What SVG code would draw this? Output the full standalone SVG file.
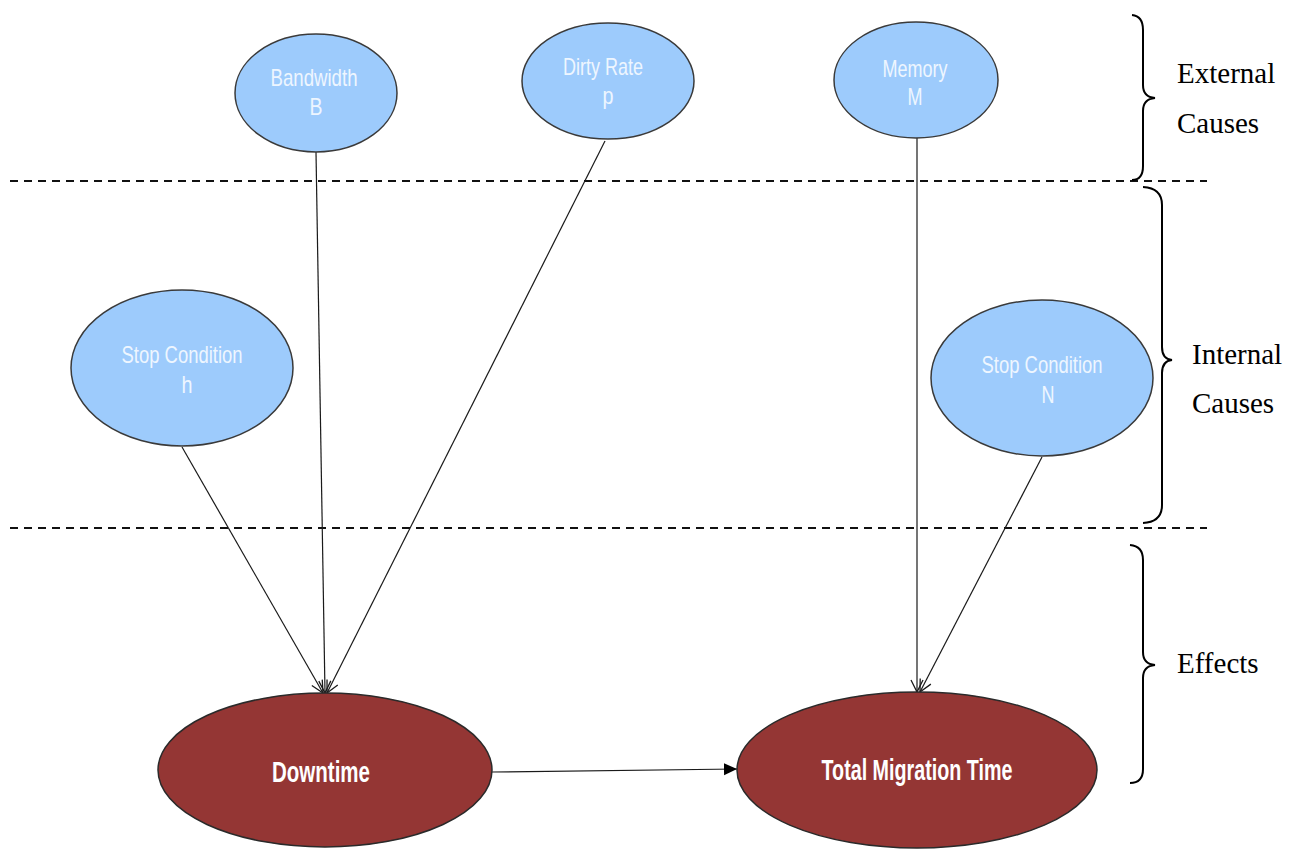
<svg xmlns="http://www.w3.org/2000/svg" width="1293" height="849" viewBox="0 0 1293 849">
  <defs>
    <marker id="open-arrow" markerWidth="14" markerHeight="14" refX="13" refY="7" orient="auto" markerUnits="userSpaceOnUse">
      <path d="M1,1 L13,7 L1,13" fill="none" stroke="#1a1a1a" stroke-width="1.3"/>
    </marker>
    <marker id="solid-arrow" markerWidth="14" markerHeight="14" refX="13" refY="7" orient="auto" markerUnits="userSpaceOnUse">
      <path d="M0,1 L13,7 L0,13 Z" fill="#000"/>
    </marker>
  </defs>
  <style>
    .cause { fill: #9dcbfc; stroke: #3a3a3a; stroke-width: 1.5; }
    .effect { fill: #943634; stroke: #2a2a2a; stroke-width: 1.5; }
    .cause-text { font-family: "Liberation Sans Narrow", "Liberation Sans", Arial, sans-serif; font-size: 24px; fill: #eef6ff; text-anchor: middle; }
    .effect-text { font-family: "Liberation Sans Narrow", "Liberation Sans", Arial, sans-serif; font-size: 29px; font-weight: bold; fill: #ffffff; text-anchor: middle; }
    .edge { fill: none; stroke: #1a1a1a; stroke-width: 1.2; }
    .divider { fill: none; stroke: #111; stroke-width: 2; stroke-dasharray: 8 6; }
    .brace { fill: none; stroke: #000; stroke-width: 2; }
    .layer-label { font-family: "Liberation Serif", "Times New Roman", serif; font-size: 29px; fill: #000; }
  </style>

  <rect width="1293" height="849" fill="#ffffff"/>

  <!-- layer dividers -->
  <g id="dividers">
    <line class="divider" x1="10" y1="181" x2="1207" y2="181"/>
    <line class="divider" x1="10" y1="528" x2="1207" y2="528"/>
  </g>

  <!-- connectors -->
  <g id="connectors">
    <line class="edge" x1="316" y1="152" x2="325" y2="693" marker-end="url(#open-arrow)"/>
    <line class="edge" x1="605" y1="141" x2="327" y2="693" marker-end="url(#open-arrow)"/>
    <line class="edge" x1="182" y1="447" x2="323" y2="693" marker-end="url(#open-arrow)"/>
    <line class="edge" x1="917" y1="138" x2="917" y2="692" marker-end="url(#open-arrow)"/>
    <line class="edge" x1="1042" y1="457" x2="920" y2="692" marker-end="url(#open-arrow)"/>
    <line class="edge" x1="492" y1="772" x2="737" y2="769" stroke-width="1.6" marker-end="url(#solid-arrow)"/>
  </g>

  <!-- external causes -->
  <g id="node-bandwidth">
    <ellipse class="cause" cx="316" cy="93" rx="81" ry="59"/>
    <text class="cause-text" x="314" y="86" textLength="87" lengthAdjust="spacingAndGlyphs">Bandwidth</text>
    <text class="cause-text" x="316" y="115" textLength="13" lengthAdjust="spacingAndGlyphs">B</text>
  </g>
  <g id="node-dirty-rate">
    <ellipse class="cause" cx="608" cy="81" rx="86" ry="58"/>
    <text class="cause-text" x="603" y="75" textLength="80" lengthAdjust="spacingAndGlyphs">Dirty Rate</text>
    <text class="cause-text" x="608" y="104" textLength="11" lengthAdjust="spacingAndGlyphs">p</text>
  </g>
  <g id="node-memory">
    <ellipse class="cause" cx="916" cy="80" rx="82" ry="58"/>
    <text class="cause-text" x="915" y="77" textLength="65" lengthAdjust="spacingAndGlyphs">Memory</text>
    <text class="cause-text" x="915" y="105" textLength="15" lengthAdjust="spacingAndGlyphs">M</text>
  </g>

  <!-- internal causes -->
  <g id="node-stop-h">
    <ellipse class="cause" cx="182" cy="368" rx="111" ry="78"/>
    <text class="cause-text" x="182" y="363" textLength="121" lengthAdjust="spacingAndGlyphs">Stop Condition</text>
    <text class="cause-text" x="187" y="393" textLength="11" lengthAdjust="spacingAndGlyphs">h</text>
  </g>
  <g id="node-stop-n">
    <ellipse class="cause" cx="1042" cy="378" rx="111" ry="78"/>
    <text class="cause-text" x="1042" y="373" textLength="121" lengthAdjust="spacingAndGlyphs">Stop Condition</text>
    <text class="cause-text" x="1048" y="403" textLength="13" lengthAdjust="spacingAndGlyphs">N</text>
  </g>

  <!-- effects -->
  <g id="node-downtime">
    <ellipse class="effect" cx="325" cy="770" rx="167" ry="77"/>
    <text class="effect-text" x="321" y="782" textLength="98" lengthAdjust="spacingAndGlyphs">Downtime</text>
  </g>
  <g id="node-total-migration-time">
    <ellipse class="effect" cx="917" cy="770" rx="180" ry="78"/>
    <text class="effect-text" x="917" y="780" textLength="191" lengthAdjust="spacingAndGlyphs">Total Migration Time</text>
  </g>

  <!-- layer braces and labels -->
  <g id="legend-external">
    <path class="brace" d="M1132,15 Q1143,16 1143,30 L1143,85 Q1143,97 1155,98 Q1143,99 1143,111 L1143,166 Q1143,180 1132,180"/>
    <text class="layer-label" x="1177" y="83">External</text>
    <text class="layer-label" x="1177" y="133">Causes</text>
  </g>
  <g id="legend-internal">
    <path class="brace" d="M1143,187 Q1162,188 1162,205 L1162,347 Q1162,359 1172,360 Q1162,361 1162,373 L1162,505 Q1162,522 1143,523"/>
    <text class="layer-label" x="1192" y="364">Internal</text>
    <text class="layer-label" x="1192" y="413">Causes</text>
  </g>
  <g id="legend-effects">
    <path class="brace" d="M1130,545 Q1143,546 1143,560 L1143,652 Q1143,664 1155,665 Q1143,666 1143,678 L1143,769 Q1143,783 1130,783"/>
    <text class="layer-label" x="1177" y="673">Effects</text>
  </g>
</svg>
